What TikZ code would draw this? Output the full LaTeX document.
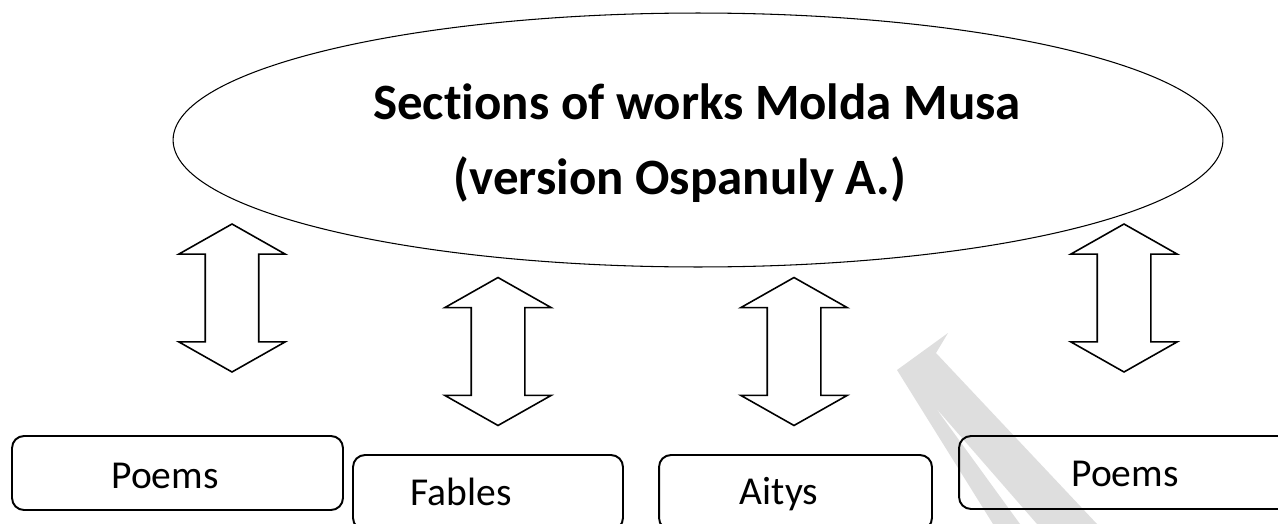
\documentclass[tikz,border=0pt]{standalone}
\usepackage{fontspec}
\setmainfont[Ligatures={NoCommon}]{Carlito}
\usetikzlibrary{shapes.geometric,shapes.arrows}
\definecolor{MarkClr}{RGB}{222,222,222}

\tikzset{
  twoway/.style={draw,line width=0.9pt,shape=double arrow,rotate=90,
    double arrow head extend=0.53cm,double arrow tip angle=121,
    minimum width=2.12cm,minimum height=2.96cm,inner xsep=0pt,inner ysep=0.52cm},
  partbox/.style={draw,line width=1.1pt,rounded corners=0.24cm,inner sep=0pt},
  parttext/.style={font=\fontsize{22.5}{25}\selectfont,anchor=base},
  headtext/.style={font=\bfseries\fontsize{29}{32}\selectfont,anchor=base}
}

\begin{document}
\begin{tikzpicture}[x=0.02cm,y=-0.02cm]
\useasboundingbox (0,0) rectangle (1278,524);
\clip (0,0) rectangle (1278,524);

% Faint watermark behind the picture.
\fill[MarkClr] (897,370) -- (948,333) -- (936,353) -- (1097,524) -- (1037,524)
  -- (935,407) -- (1020,524) -- (993,524) -- cycle;

% The ellipse with the heading.
\node[draw,ellipse,line width=0.6pt,minimum width=21cm,minimum height=5.08cm] (E) at (698,140) {};
\node[headtext] (H1) at (697,119) {Sections of works Molda Musa};
\node[headtext] (H2) at (680,194) {(version Ospanuly A.)};

% Double arrows.
\node[twoway] (A1) at (232,298) {};
\node[twoway] (A2) at (498,351.5) {};
\node[twoway] (A3) at (794,351.5) {};
\node[twoway] (A4) at (1124,298) {};

% The four sections.
\node[partbox,minimum width=6.62cm,minimum height=1.48cm] (B1) at (177.5,473) {};
\node[partbox,minimum width=5.4cm,minimum height=1.5cm] (B2) at (488,492.5) {};
\node[partbox,minimum width=5.46cm,minimum height=1.5cm] (B3) at (795.5,492.5) {};
\node[partbox,minimum width=6.62cm,minimum height=1.46cm] (B4) at (1124.5,472.5) {};

\node[parttext] (P1) at (165,488) {Poems};
\node[parttext] (P2) at (461,505) {Fables};
\node[parttext] (P3) at (779,504) {Aitys};
\node[parttext] (P4) at (1125,486) {Poems};

\end{tikzpicture}
\end{document}
